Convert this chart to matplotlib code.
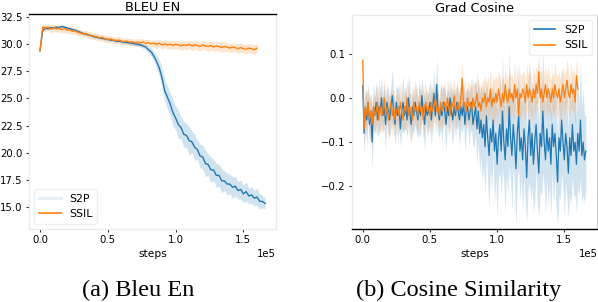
import numpy as np
import matplotlib
matplotlib.use("Agg")
import matplotlib.pyplot as plt
from matplotlib.lines import Line2D

# ---------------- data ----------------
bleu_step = 2000
bleu_s2p = [29.4, 31.3, 31.5, 31.45, 31.55, 31.5, 31.6, 31.55, 31.65, 31.6,
            31.5, 31.45, 31.35, 31.3, 31.2, 31.1, 31.0, 30.95, 30.85, 30.8,
            30.7, 30.65, 30.6, 30.55, 30.5, 30.45, 30.4, 30.38, 30.3, 30.3,
            30.25, 30.2, 30.18, 30.12, 30.1, 30.05, 30.0, 29.95, 29.85, 29.75,
            29.5, 29.3, 28.9, 28.4, 27.8, 26.9, 25.7, 25.1, 24.5, 23.7,
            23.2, 22.6, 22.3, 21.7, 21.6, 21.1, 21.0, 20.5, 20.3, 19.7,
            19.6, 19.0, 18.9, 18.4, 18.4, 17.9, 17.9, 17.4, 17.4, 17.1,
            17.1, 16.8, 16.9, 16.5, 16.6, 16.2, 16.4, 16.0, 16.1, 15.8,
            15.9, 15.5, 15.5, 15.3]
bleu_s2p_hw = [0.1, 0.15, 0.15, 0.12, 0.15, 0.12, 0.15, 0.12, 0.15, 0.12,
               0.12, 0.15, 0.12, 0.15, 0.12, 0.15, 0.12, 0.15, 0.12, 0.15,
               0.15, 0.12, 0.15, 0.12, 0.15, 0.12, 0.15, 0.12, 0.15, 0.12,
               0.15, 0.12, 0.15, 0.15, 0.18, 0.15, 0.2, 0.18, 0.22, 0.25,
               0.3, 0.35, 0.45, 0.6, 0.75, 0.9, 1.0, 1.1, 1.0, 1.2,
               1.1, 1.3, 1.0, 1.2, 1.1, 1.3, 1.0, 1.2, 0.9, 1.1,
               1.1, 1.2, 1.0, 1.2, 1.0, 1.1, 1.0, 1.1, 0.9, 1.0,
               0.9, 1.0, 0.9, 0.8, 0.9, 0.8, 0.9, 0.7, 0.8, 0.7,
               0.8, 0.7, 0.6, 0.5]
bleu_ssil = [29.4, 31.6, 31.5, 31.6, 31.4, 31.55, 31.45, 31.5, 31.35, 31.45,
             31.3, 31.35, 31.2, 31.25, 31.1, 31.05, 30.95, 31.0, 30.85, 30.8,
             30.75, 30.7, 30.6, 30.65, 30.5, 30.45, 30.5, 30.4, 30.35, 30.4,
             30.3, 30.25, 30.3, 30.2, 30.25, 30.15, 30.2, 30.15, 30.2, 30.1,
             30.15, 30.05, 30.1, 30.0, 30.1, 29.95, 30.05, 29.95, 30.0, 29.9,
             30.0, 29.95, 29.85, 29.95, 29.9, 30.0, 29.85, 29.95, 29.9, 29.8,
             29.95, 29.85, 29.8, 29.9, 29.75, 29.85, 29.8, 29.7, 29.8, 29.75,
             29.65, 29.75, 29.7, 29.6, 29.7, 29.6, 29.55, 29.65, 29.6, 29.5,
             29.65]
bleu_ssil_hw = [0.1, 0.3, 0.35, 0.3, 0.35, 0.3, 0.32, 0.35, 0.3, 0.33,
                0.3, 0.35, 0.32, 0.3, 0.35, 0.3, 0.33, 0.3, 0.35, 0.3,
                0.32, 0.35, 0.3, 0.33, 0.3, 0.35, 0.3, 0.32, 0.3, 0.35,
                0.3, 0.33, 0.3, 0.35, 0.3, 0.32, 0.35, 0.3, 0.33, 0.35,
                0.3, 0.35, 0.33, 0.4, 0.35, 0.38, 0.35, 0.4, 0.35, 0.38,
                0.4, 0.35, 0.42, 0.38, 0.4, 0.35, 0.42, 0.38, 0.45, 0.4,
                0.42, 0.38, 0.45, 0.4, 0.42, 0.45, 0.4, 0.42, 0.45, 0.4,
                0.42, 0.45, 0.4, 0.45, 0.42, 0.4, 0.45, 0.42, 0.4, 0.45,
                0.4]

cos_step = 1000
cos_s2p = [0.028, -0.08, -0.02, -0.05, -0.01, -0.06, -0.03, -0.10, -0.02, -0.04,
           -0.01, -0.05, -0.02, -0.03, 0.0, -0.04, -0.02, -0.06, -0.01, -0.03,
           -0.05, -0.02, 0.005, -0.03, -0.06, -0.01, -0.04, -0.02, -0.07, -0.03,
           -0.01, -0.04, -0.02, -0.05, 0.0, -0.03, -0.06, -0.02, -0.04, -0.01,
           -0.03, -0.05, -0.02, -0.04, 0.005, -0.03, -0.06, -0.02, -0.04, -0.03,
           -0.01, -0.05, -0.02, 0.01, -0.04, 0.03, -0.03, -0.05, -0.02, -0.04,
           -0.01, -0.03, -0.06, -0.02, -0.04, 0.0, -0.03, -0.05, -0.02, -0.04,
           -0.01, -0.03, -0.05, -0.02, -0.04, -0.01, -0.06, -0.03, -0.02, -0.05,
           -0.03, -0.01, -0.06, -0.04, -0.02, -0.07, -0.03, -0.08, -0.05, -0.09,
           -0.06, -0.11, -0.04, -0.09, -0.13, -0.07, -0.10, -0.05, -0.12, -0.08,
           -0.15, -0.09, -0.06, -0.12, -0.03, -0.10, -0.14, -0.07, -0.11, -0.02,
           -0.09, -0.13, -0.06, -0.10, -0.16, -0.08, -0.04, -0.12, -0.09, -0.14,
           -0.07, -0.11, -0.18, -0.09, -0.05, -0.13, -0.08, -0.15, -0.10, -0.06,
           -0.12, -0.17, -0.08, -0.11, -0.03, -0.10, -0.14, -0.07, -0.12, -0.09,
           -0.15, -0.06, -0.11, -0.08, -0.13, -0.19, -0.09, -0.12, -0.05, -0.10,
           -0.14, -0.08, -0.11, -0.17, -0.09, -0.13, -0.06, -0.12, -0.10, -0.15,
           -0.08, -0.12, -0.05, -0.13, -0.10, -0.14, -0.12]
cos_s2p_hw = [0.02, 0.05, 0.04, 0.06, 0.04, 0.05, 0.04, 0.06, 0.05, 0.04,
              0.05, 0.04, 0.06, 0.04, 0.05, 0.04, 0.05, 0.06, 0.04, 0.05,
              0.04, 0.05, 0.06, 0.04, 0.05, 0.04, 0.06, 0.05, 0.04, 0.05,
              0.06, 0.04, 0.05, 0.04, 0.05, 0.06, 0.04, 0.05, 0.04, 0.05,
              0.05, 0.04, 0.06, 0.05, 0.04, 0.05, 0.06, 0.04, 0.05, 0.04,
              0.05, 0.06, 0.04, 0.05, 0.04, 0.06, 0.05, 0.04, 0.05, 0.06,
              0.04, 0.05, 0.06, 0.04, 0.05, 0.04, 0.05, 0.06, 0.04, 0.05,
              0.05, 0.04, 0.06, 0.05, 0.04, 0.05, 0.06, 0.05, 0.04, 0.06,
              0.05, 0.06, 0.05, 0.07, 0.06, 0.08, 0.07, 0.09, 0.08, 0.10,
              0.09, 0.11, 0.08, 0.10, 0.12, 0.09, 0.11, 0.08, 0.12, 0.10,
              0.12, 0.09, 0.11, 0.10, 0.13, 0.09, 0.12, 0.10, 0.11, 0.13,
              0.10, 0.12, 0.09, 0.11, 0.13, 0.10, 0.12, 0.11, 0.09, 0.12,
              0.11, 0.13, 0.10, 0.12, 0.14, 0.10, 0.12, 0.11, 0.13, 0.10,
              0.12, 0.10, 0.13, 0.11, 0.14, 0.10, 0.12, 0.11, 0.13, 0.10,
              0.12, 0.11, 0.13, 0.10, 0.12, 0.10, 0.13, 0.11, 0.12, 0.10,
              0.13, 0.11, 0.12, 0.10, 0.13, 0.11, 0.12, 0.10, 0.12, 0.11,
              0.12, 0.10, 0.13, 0.11, 0.12, 0.10, 0.08]
cos_ssil = [0.085, -0.07, -0.02, -0.04, -0.01, -0.05, -0.03, -0.06, -0.02, -0.04,
            -0.03, -0.01, -0.05, -0.02, -0.04, -0.03, 0.0, -0.04, -0.02, -0.05,
            -0.03, -0.01, -0.04, -0.02, -0.05, -0.03, -0.02, -0.04, -0.01, -0.03,
            -0.05, -0.02, -0.03, 0.0, -0.04, -0.02, -0.03, -0.05, -0.01, -0.03,
            -0.02, -0.04, -0.01, -0.03, -0.02, -0.05, -0.02, -0.01, -0.03, -0.02,
            -0.04, -0.01, -0.03, -0.02, 0.0, -0.03, -0.02, -0.04, -0.01, -0.03,
            -0.02, -0.01, -0.03, 0.0, -0.02, -0.04, -0.01, -0.02, 0.005, -0.03,
            -0.02, -0.01, -0.03, 0.0, 0.044, -0.02, -0.01, -0.03, 0.0, -0.02,
            -0.01, -0.03, 0.0, -0.02, -0.01, 0.01, -0.02, -0.01, -0.03, 0.0,
            -0.01, 0.01, -0.02, 0.0, -0.01, 0.02, -0.02, 0.0, -0.01, 0.01,
            -0.01, 0.02, 0.0, -0.02, 0.01, -0.01, 0.03, 0.0, -0.01, 0.02,
            0.0, 0.01, -0.01, 0.03, 0.0, 0.02, -0.04, 0.01, 0.0, 0.02,
            0.01, -0.01, 0.03, 0.0, 0.02, 0.01, -0.01, 0.02, 0.0, 0.03,
            0.01, 0.059, 0.0, 0.02, -0.01, 0.01, 0.03, 0.0, 0.02, 0.01,
            -0.01, 0.02, 0.0, 0.03, 0.01, 0.0, 0.02, -0.01, 0.01, 0.03,
            0.0, 0.02, 0.04, 0.01, 0.0, 0.03, 0.01, 0.02, -0.01, 0.05,
            0.02]
cos_ssil_hw = [0.02, 0.04, 0.05, 0.04, 0.03, 0.05, 0.04, 0.05, 0.03, 0.04,
               0.05, 0.04, 0.03, 0.05, 0.04, 0.04, 0.05, 0.03, 0.04, 0.05,
               0.04, 0.03, 0.05, 0.04, 0.04, 0.05, 0.03, 0.04, 0.05, 0.04,
               0.03, 0.05, 0.04, 0.04, 0.05, 0.03, 0.04, 0.05, 0.04, 0.03,
               0.05, 0.04, 0.04, 0.05, 0.03, 0.04, 0.05, 0.04, 0.03, 0.05,
               0.04, 0.04, 0.05, 0.03, 0.04, 0.05, 0.04, 0.03, 0.05, 0.04,
               0.04, 0.05, 0.03, 0.04, 0.05, 0.04, 0.03, 0.05, 0.04, 0.04,
               0.05, 0.03, 0.04, 0.05, 0.04, 0.03, 0.05, 0.04, 0.04, 0.05,
               0.04, 0.05, 0.04, 0.05, 0.04, 0.05, 0.05, 0.04, 0.05, 0.04,
               0.05, 0.04, 0.05, 0.05, 0.04, 0.05, 0.04, 0.05, 0.05, 0.04,
               0.05, 0.04, 0.05, 0.05, 0.04, 0.05, 0.04, 0.05, 0.05, 0.04,
               0.05, 0.04, 0.05, 0.05, 0.04, 0.05, 0.04, 0.05, 0.05, 0.04,
               0.05, 0.04, 0.05, 0.05, 0.04, 0.05, 0.04, 0.05, 0.05, 0.04,
               0.05, 0.04, 0.05, 0.05, 0.04, 0.05, 0.04, 0.05, 0.05, 0.04,
               0.05, 0.04, 0.05, 0.05, 0.04, 0.05, 0.04, 0.05, 0.05, 0.04,
               0.05, 0.04, 0.05, 0.05, 0.04, 0.05, 0.04, 0.05, 0.05, 0.04,
               0.04]

series_labels = ["S2P", "SSIL"]
titles = ["BLEU EN", "Grad Cosine"]
captions = ["(a) Bleu En", "(b) Cosine Similarity"]
xlabel = "steps"

# ---------------- style ----------------
BLUE = "#1f77b4"
ORANGE = "#ff7f0e"
LIGHT = "#ebebeb"
TICK_FS = 7.3
TITLE_FS = 9.3
LEG_FS = 7.9

fig = plt.figure(figsize=(5.98, 3.02), dpi=100)
ax1 = fig.add_axes([0.0485, 0.2417, 0.413, 0.7119])
ax2 = fig.add_axes([0.5886, 0.2417, 0.4106, 0.7086])


def plot_band(ax, step, vals, hw, color, lw):
    v = np.array(vals, dtype=float)
    h = np.array(hw, dtype=float)
    x = np.arange(len(v)) * step
    ax.fill_between(x, v - h, v + h, color=color, alpha=0.2, lw=0)
    ax.plot(x, v, color=color, lw=lw)


plot_band(ax1, bleu_step, bleu_s2p, bleu_s2p_hw, BLUE, 1.0)
plot_band(ax1, bleu_step, bleu_ssil, bleu_ssil_hw, ORANGE, 1.0)
plot_band(ax2, cos_step, cos_s2p, cos_s2p_hw, BLUE, 0.9)
plot_band(ax2, cos_step, cos_ssil, cos_ssil_hw, ORANGE, 0.9)

ax1.set_xlim(-8100, 174000)
ax1.set_ylim(12.95, 32.8)
ax1.set_yticks([15.0, 17.5, 20.0, 22.5, 25.0, 27.5, 30.0, 32.5])
ax2.set_xlim(-8000, 174700)
ax2.set_ylim(-0.296, 0.187)
ax2.set_yticks([-0.2, -0.1, 0.0, 0.1])

for ax, t in zip([ax1, ax2], titles):
    ax.set_xticks([0, 50000, 100000, 150000])
    ax.ticklabel_format(style="sci", axis="x", scilimits=(0, 0))
    ax.xaxis.get_offset_text().set_fontsize(TICK_FS)
    ax.tick_params(labelsize=TICK_FS, length=2.5, width=0.8, pad=2, color="#333333")
    ax.set_xlabel(xlabel, fontsize=7.7, labelpad=3)
    ax.set_title(t, fontsize=TITLE_FS, pad=2.5)
    for s in ax.spines.values():
        s.set_color(LIGHT)
        s.set_linewidth(1.0)

ax1.spines["top"].set_color("black")
ax2.spines["bottom"].set_color("black")
ax2.spines["right"].set_color("black")

h1 = [Line2D([], [], color=BLUE, alpha=0.12, lw=2.0), Line2D([], [], color=ORANGE, lw=1.2)]
ax1.legend(h1, series_labels, loc="lower left", fontsize=LEG_FS, frameon=True,
           edgecolor=LIGHT, fancybox=True, borderaxespad=0.5)
h2 = [Line2D([], [], color=BLUE, lw=1.2), Line2D([], [], color=ORANGE, lw=1.2)]
ax2.legend(h2, series_labels, loc="upper right", fontsize=LEG_FS, frameon=True,
           edgecolor=LIGHT, fancybox=True, borderaxespad=0.5)

fig.text(138.5 / 598, 0.02, captions[0], family="Liberation Serif", fontsize=17.5,
         ha="center", va="baseline")
fig.text(459 / 598, 0.02, captions[1], family="Liberation Serif", fontsize=17.5,
         ha="center", va="baseline")

fig.savefig("out.png", dpi=100)
